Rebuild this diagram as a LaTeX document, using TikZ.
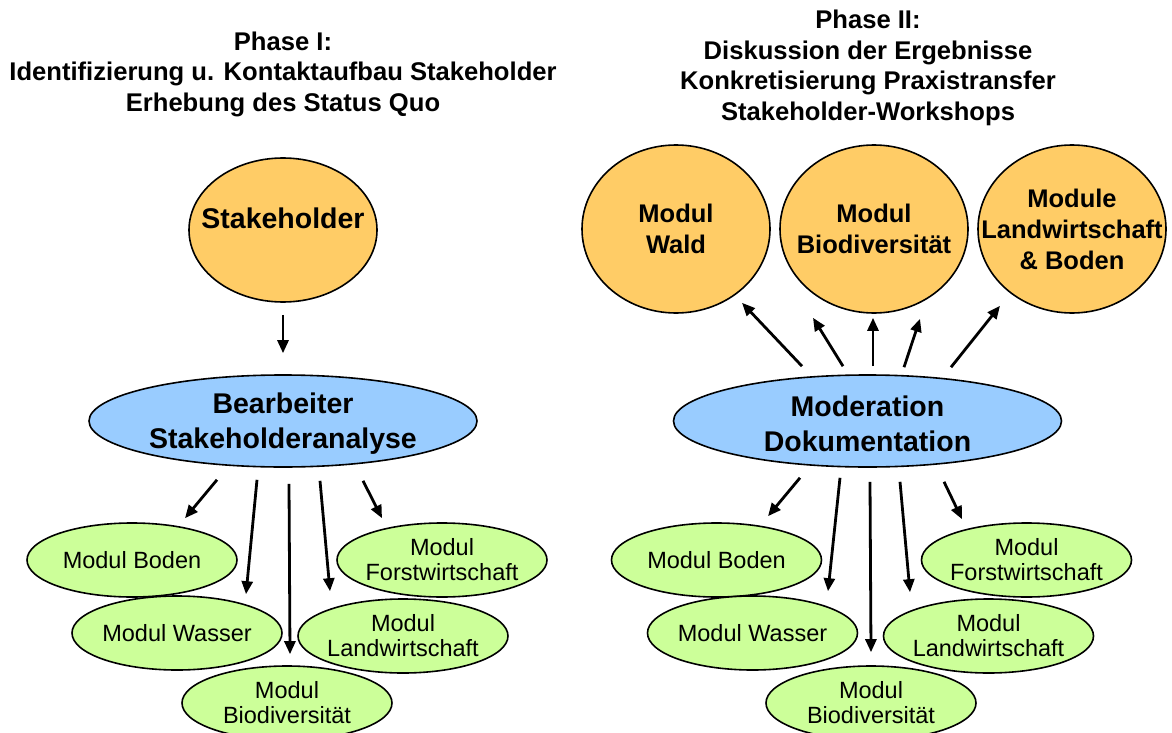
\documentclass[tikz,border=0pt]{standalone}
\usepackage{fontspec}
\setmainfont{Liberation Sans}
\usetikzlibrary{shapes.geometric,arrows.meta}

\definecolor{stakeorange}{HTML}{FFCC66}
\definecolor{bearblue}{HTML}{99CCFF}
\definecolor{modgreen}{HTML}{CCFF99}

\tikzset{
    bubble/.style={ellipse, draw, line width=1.6pt, inner sep=0pt},
    big/.style={bubble, fill=stakeorange, minimum width=188pt, minimum height=168pt},
    work/.style={bubble, fill=bearblue, minimum width=388pt, minimum height=92pt},
    modul/.style={bubble, fill=modgreen, minimum width=210pt, minimum height=74pt},
    heading/.style={align=center, font=\bfseries\fontsize{25.6}{30.5}\selectfont},
    bigtext/.style={align=center, font=\bfseries\fontsize{25.5}{31}\selectfont},
    worktext/.style={align=center, yshift=-3pt, font=\bfseries\fontsize{28.5}{35}\selectfont},
    modtext/.style={align=center, font=\fontsize{23.5}{25}\selectfont},
    pfeil/.style={-{Triangle[length=13pt,width=11pt]}, line width=2.8pt}
}

\begin{document}
\begin{tikzpicture}[x=1pt, y=-1pt]
    \useasboundingbox (0,0) rectangle (1172,733);

    % Phase I
    \node [heading] (phase1) at (283,74)
        {Phase I:\\Identifizierung u. Kontaktaufbau Stakeholder\\Erhebung des Status Quo};
    \node [big, minimum height=144pt,
        label={[worktext, yshift=15pt]center:Stakeholder}] (stake) at (283,230) {};
    \node [work, label={[worktext]center:{Bearbeiter\\Stakeholderanalyse}}] (bear) at (283,421) {};

    \node [modul, label={[modtext]center:Modul Boden}] (boden) at (132,560) {};
    \node [modul, label={[modtext]center:{Modul\\Forstwirtschaft}}] (forst) at (442,560) {};
    \node [modul, label={[modtext]center:Modul Wasser}] (wasser) at (177,633) {};
    \node [modul, label={[modtext]center:{Modul\\Landwirtschaft}}] (landw) at (403,636) {};
    \node [modul, label={[modtext]center:{Modul\\Biodiversität}}] (biodiv) at (287,703) {};

    \draw [pfeil] ([shift={(0,12)}]stake.south) -- ([shift={(0,-21)}]bear.north);
    \draw [pfeil] ([shift={(-66,12)}]bear.south) -- ([shift={(53,-4)}]boden.north);
    \draw [pfeil] ([shift={(-26,12)}]bear.south) -- ([shift={(69,-1)}]wasser.north);
    \draw [pfeil] ([shift={(6,16)}]bear.south) -- ([shift={(3,-11)}]biodiv.north);
    \draw [pfeil] ([shift={(37,13)}]bear.south) -- ([shift={(-73,-7)}]landw.north);
    \draw [pfeil] ([shift={(80,13)}]bear.south) -- ([shift={(-60,-4)}]forst.north);

    % Phase II
    \node [heading] (phase2) at (868,68)
        {Phase II:\\Diskussion der Ergebnisse\\Konkretisierung Praxistransfer\\Stakeholder-Workshops};
    \node [big, label={[bigtext]center:{Modul\\Wald}}] (wald) at (676,229) {};
    \node [big, label={[bigtext]center:{Modul\\Biodiversität}}] (bio) at (874,229) {};
    \node [big, label={[bigtext]center:{Module\\Landwirtschaft\\\& Boden}}] (lwb) at (1072,229) {};
    \node [work, label={[worktext]center:{Moderation\\Dokumentation}}] (mod) at (867.5,421) {};

    \node [modul, label={[modtext]center:Modul Boden}] (rboden) at (716.5,560) {};
    \node [modul, label={[modtext]center:{Modul\\Forstwirtschaft}}] (rforst) at (1026.5,560) {};
    \node [modul, label={[modtext]center:Modul Wasser}] (rwasser) at (752.5,633) {};
    \node [modul, label={[modtext]center:{Modul\\Landwirtschaft}}] (rlandw) at (988.5,636) {};
    \node [modul, label={[modtext]center:{Modul\\Biodiversität}}] (rbiodiv) at (871,703) {};

    \draw [pfeil] ([shift={(-65.5,-8)}]mod.north) -- ([shift={(66,-11)}]wald.south);
    \draw [pfeil] ([shift={(-24.5,-8)}]mod.north) -- ([shift={(-61,4)}]bio.south);
    \draw [pfeil] ([shift={(5.5,-8)}]mod.north) -- ([shift={(-1,4)}]bio.south);
    \draw [pfeil] ([shift={(36.5,-7)}]mod.north) -- ([shift={(46,5)}]bio.south);
    \draw [pfeil] ([shift={(83.5,-7)}]mod.north) -- ([shift={(-72,-8)}]lwb.south);

    \draw [pfeil] ([shift={(-67.5,10)}]mod.south) -- ([shift={(51.5,-6)}]rboden.north);
    \draw [pfeil] ([shift={(-27.5,10)}]mod.south) -- ([shift={(75.5,-4)}]rwasser.north);
    \draw [pfeil] ([shift={(2.5,14)}]mod.south) -- ([shift={(0,-13)}]rbiodiv.north);
    \draw [pfeil] ([shift={(32.5,14)}]mod.south) -- ([shift={(-78.5,-6)}]rlandw.north);
    \draw [pfeil] ([shift={(76.5,14)}]mod.south) -- ([shift={(-64.5,-3)}]rforst.north);
\end{tikzpicture}
\end{document}
